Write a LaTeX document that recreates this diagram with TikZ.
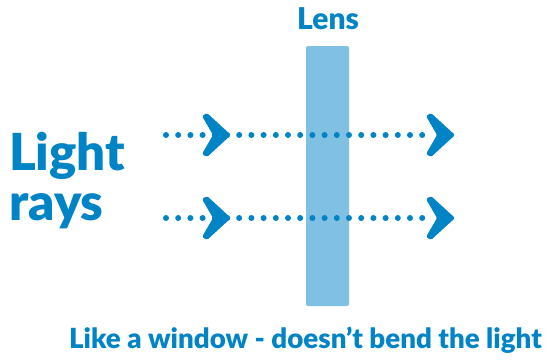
\documentclass[tikz,border=0pt]{standalone}
\usepackage{fontspec}
\setmainfont{Lato}[BoldFont={Lato Black}]
\definecolor{rayblue}{HTML}{0084C6}
\definecolor{lensblue}{HTML}{80C1E3}
\begin{document}
\begin{tikzpicture}[x=1pt,y=-1pt,
  lbl/.style={text=rayblue,font=\bfseries,inner sep=0pt},
  ray/.style={draw=rayblue,line width=6pt,line cap=round,dash pattern=on 0pt off 12.2pt},
  chev/.pic={\fill[rayblue,rounded corners=1.5pt] (0,0) -- (-24,-22) -- (-29,-19) -- (-18,0) -- (-29,19) -- (-24,22) -- cycle;}]
\useasboundingbox (0,0) rectangle (545,359);
\node[fill=lensblue,rounded corners=2pt,minimum width=43pt,minimum height=260pt,inner sep=0pt] (lens) at (327.5,176) {};
\node[lbl,font=\bfseries\fontsize{30}{30}\selectfont,anchor=base] (lenslbl) at (328,29) {Lens};
\node[lbl,font=\bfseries\fontsize{51}{50}\selectfont,align=left,anchor=base west] (light) at (9,220) {Light\\rays};
\node[lbl,font=\bfseries\fontsize{27.7}{27.7}\selectfont,anchor=base west] (caption) at (69,348) {Like a window - doesn’t bend the light};
\coordinate (r1s) at (166,135); \coordinate (r1e) at (434,135);
\coordinate (r2s) at (166,218); \coordinate (r2e) at (434,218);
\draw[ray] (r1s) -- (r1e);
\draw[ray] (r2s) -- (r2e);
\pic at (231,135) {chev}; \pic at (455,135) {chev};
\pic at (231,218) {chev}; \pic at (455,218) {chev};
\end{tikzpicture}
\end{document}
